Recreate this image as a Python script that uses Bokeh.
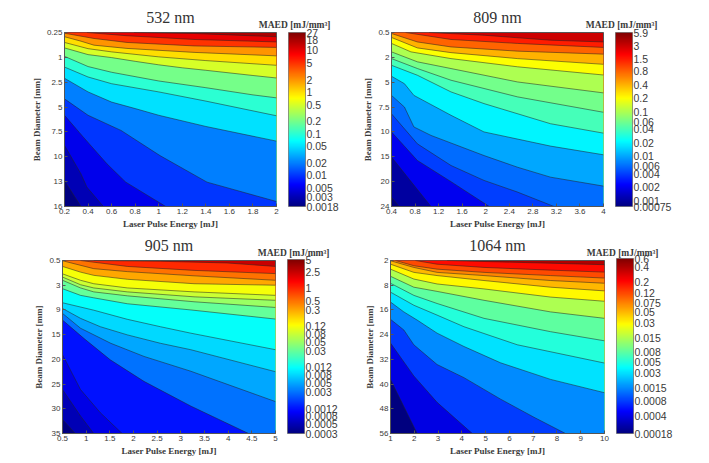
import numpy as np
from bokeh.embed import file_html
from bokeh.resources import INLINE
from bokeh.layouts import column, row
from bokeh.plotting import figure
from bokeh.models import ColorBar, LogColorMapper, FixedTicker, Range1d, AllLabels, Title

# ---------- 532 nm ----------
T_532 = "532 nm"
LEVELS_532 = [27, 18, 10, 5, 2, 1, 0.5, 0.2, 0.1, 0.05, 0.02, 0.01, 0.005, 0.003, 0.0018]
XTICKS_532 = [0.2, 0.4, 0.6, 0.8, 1, 1.2, 1.4, 1.6, 1.8, 2]
YLABELS_532 = ["0.25", "1", "2.5", "5", "7.5", "10", "13", "16"]
X_532 = [
    [0.79, 1.3, 2],
    [0.39, 0.73, 1.3, 2],
    [0.2, 0.45, 0.73, 1.3, 2],
    [0.2, 0.34, 0.45, 0.73, 1.3, 2],
    [0.2, 0.4, 0.6, 1, 1.4, 2],
    [0.2, 0.4, 0.6, 0.8, 1, 1.2, 1.4, 1.8, 2],
    [0.2, 0.4, 0.6, 1, 1.4, 1.8, 2],
    [0.2, 0.4, 0.6, 1, 1.4, 2],
    [0.2, 0.4, 0.6, 0.8, 1, 1.4, 2],
    [0.2, 0.4, 0.68, 1.01, 1.41, 2],
    [0.2, 0.36, 0.56, 0.72, 1.06],
    [0.2, 0.34, 0.39, 0.53],
    [0.2, 0.34],
]
Y_532 = [
    [0, 0.04, 0.17],
    [0, 0.13, 0.28, 0.38],
    [0.03, 0.24, 0.40, 0.54, 0.60],
    [0.17, 0.35, 0.51, 0.64, 0.80, 0.94],
    [0.40, 0.65, 0.78, 0.98, 1.13, 1.32],
    [0.62, 0.89, 1.01, 1.16, 1.30, 1.42, 1.52, 1.73, 1.83],
    [0.96, 1.37, 1.60, 1.95, 2.22, 2.51, 2.63],
    [1.39, 1.79, 2.06, 2.39, 2.76, 3.35],
    [1.84, 2.39, 2.80, 3.06, 3.33, 3.78, 4.37],
    [2.67, 3.33, 3.94, 4.95, 6.02, 6.80],
    [3.33, 4.21, 5.28, 6.02, 7],
    [4.54, 5.69, 6.22, 7],
    [5.96, 7],
]

# ---------- 809 nm ----------
T_809 = "809 nm"
LEVELS_809 = [5.9, 3, 1.5, 0.8, 0.4, 0.2, 0.1, 0.06, 0.04, 0.02, 0.01, 0.006, 0.004, 0.002, 0.001, 0.00075]
XTICKS_809 = [0.4, 0.8, 1.2, 1.6, 2, 2.4, 2.8, 3.2, 3.6, 4]
YLABELS_809 = ["0.5", "2", "5", "7.5", "10", "15", "20", "24"]
X_809 = [
    [1.04, 1.97, 3.1, 4],
    [0.64, 1.41, 2.54, 4],
    [0.4, 0.84, 1.41, 2.54, 4],
    [0.4, 0.84, 1.41, 2.54, 4],
    [0.4, 0.73, 1.41, 2.54, 4],
    [0.4, 0.84, 1.41, 2.54, 4],
    [0.4, 0.84, 1.41, 2.54, 4],
    [0.4, 0.84, 1.41, 1.97, 3.1, 4],
    [0.4, 0.62, 0.78, 1.41, 1.97, 3.1, 4],
    [0.4, 0.62, 0.78, 1.07, 1.97, 2.54, 3.1, 4],
    [0.4, 0.84, 1.41, 1.97, 2.54, 3.16],
    [0.4, 0.84, 1.41, 2.06],
    [0.4, 1.07],
    [0.4, 0.53],
]
Y_809 = [
    [0, 0.11, 0.31, 0.38],
    [0, 0.28, 0.44, 0.60],
    [0.04, 0.38, 0.58, 0.75, 0.87],
    [0.20, 0.62, 0.81, 1.05, 1.28],
    [0.44, 0.78, 1.05, 1.38, 1.71],
    [0.78, 1.18, 1.45, 1.99, 2.43],
    [1.05, 1.45, 1.92, 2.59, 3.21],
    [1.32, 1.72, 2.39, 2.86, 3.67, 4.05],
    [1.76, 2.06, 2.53, 3.33, 4.0, 4.57, 4.92],
    [2.53, 3.0, 3.8, 4.14, 4.95, 5.42, 5.82, 6.18],
    [3.27, 4.48, 5.35, 5.95, 6.42, 7],
    [4.0, 5.15, 6.0, 7],
    [5.01, 7],
    [6.63, 7],
]

# ---------- 905 nm ----------
T_905 = "905 nm"
LEVELS_905 = [5, 2.5, 1, 0.5, 0.3, 0.12, 0.08, 0.05, 0.03, 0.012, 0.008, 0.005, 0.003, 0.0012, 0.0008, 0.0005, 0.0003]
XTICKS_905 = [0.5, 1, 1.5, 2, 2.5, 3, 3.5, 4, 4.5, 5]
YLABELS_905 = ["0.5", "3", "9", "15", "20", "25", "30", "35"]
X_905 = [
    [1.16, 2.57, 3.98, 5],
    [0.88, 1.87, 3.28, 5],
    [0.5, 1.16, 1.87, 3.28, 5],
    [0.5, 0.88, 1.16, 1.87, 3.28, 5],
    [0.5, 0.88, 1.16, 1.87, 3.28, 5],
    [0.5, 0.88, 1.16, 1.87, 3.28, 5],
    [0.5, 0.88, 1.16, 1.87, 3.28, 5],
    [0.5, 0.88, 1.16, 1.87, 3.21, 5],
    [0.5, 1.16, 1.87, 2.57, 3.21, 5],
    [0.5, 0.88, 1.30, 1.87, 2.57, 3.21, 5],
    [0.5, 0.88, 1.52, 2.22, 3.21, 5],
    [0.5, 0.95, 1.51, 2.22, 3.21, 4.43],
    [0.5, 0.88, 1.30, 1.76],
    [0.5, 0.88, 1.16],
    [0.5, 0.77],
]
Y_905 = [
    [0, 0.03, 0.10, 0.24],
    [0, 0.24, 0.40, 0.53],
    [0.01, 0.33, 0.45, 0.62, 0.80],
    [0.24, 0.47, 0.60, 0.76, 0.94, 1.0],
    [0.54, 0.80, 0.94, 1.11, 1.27, 1.41],
    [0.67, 0.98, 1.11, 1.27, 1.47, 1.61],
    [0.80, 1.11, 1.27, 1.43, 1.67, 1.90],
    [1.14, 1.41, 1.51, 1.75, 2.0, 2.37],
    [1.71, 2.01, 2.38, 2.68, 2.94, 3.61],
    [1.94, 2.34, 2.68, 3.01, 3.35, 3.61, 4.5],
    [2.14, 2.74, 3.35, 3.88, 4.48, 5.71],
    [2.41, 3.15, 4.02, 4.89, 5.89, 7],
    [3.81, 5.22, 6.16, 7],
    [5.22, 6.29, 7],
    [6.43, 7],
]

# ---------- 1064 nm ----------
T_1064 = "1064 nm"
LEVELS_1064 = [0.6, 0.4, 0.2, 0.12, 0.075, 0.05, 0.03, 0.015, 0.008, 0.005, 0.003, 0.0015, 0.0008, 0.0004, 0.00018]
XTICKS_1064 = [1, 2, 3, 4, 5, 6, 7, 8, 9, 10]
YLABELS_1064 = ["2", "8", "16", "24", "32", "40", "48", "56"]
X_1064 = [
    [3.38, 4.93, 7.73, 10],
    [2.05, 2.96, 4.93, 7.73, 10],
    [1.21, 1.98, 2.96, 4.93, 7.73, 10],
    [1, 1.98, 2.96, 4.93, 7.73, 10],
    [1, 1.98, 2.96, 4.93, 7.73, 10],
    [1, 1.98, 2.96, 4.93, 7.73, 10],
    [1, 1.98, 2.96, 4.93, 7.73, 10],
    [1, 1.98, 2.96, 4.93, 7.73, 10],
    [1, 1.98, 2.96, 4.09, 6.33, 10],
    [1, 1.56, 2.12, 2.96, 4.09, 5.63, 7.73, 10],
    [1, 1.56, 1.98, 2.96, 4.09, 5.63, 7.03, 8.36],
    [1, 1.98, 2.96, 4.44],
    [1, 2.12],
]
Y_1064 = [
    [0, 0.04, 0.11, 0.17],
    [0, 0.15, 0.28, 0.39, 0.47],
    [0, 0.21, 0.35, 0.48, 0.61, 0.71],
    [0.01, 0.28, 0.48, 0.61, 0.81, 0.92],
    [0.15, 0.48, 0.61, 0.81, 1.08, 1.23],
    [0.35, 0.75, 0.95, 1.15, 1.48, 1.65],
    [0.64, 1.08, 1.25, 1.61, 2.08, 2.34],
    [0.92, 1.41, 1.74, 2.34, 2.88, 3.25],
    [1.28, 1.81, 2.21, 2.68, 3.41, 4.15],
    [1.68, 2.08, 2.41, 2.94, 3.48, 4.14, 4.81, 5.35],
    [2.38, 2.81, 3.41, 4.21, 4.74, 5.61, 6.34, 7],
    [3.34, 4.67, 5.74, 7],
    [4.81, 7],
]


def jet(t):
    t = np.clip(t, 0, 1)
    r = np.clip(np.minimum(4 * t - 1.5, -4 * t + 4.5), 0, 1)
    g = np.clip(np.minimum(4 * t - 0.5, -4 * t + 3.5), 0, 1)
    b = np.clip(np.minimum(4 * t + 0.5, -4 * t + 2.5), 0, 1)
    return "#%02x%02x%02x" % (int(r * 255), int(g * 255), int(b * 255))


PALETTE = [jet(i / 255) for i in range(256)]
SERIF = "Liberation Serif"
SANS = "Liberation Sans"
TXT = "#3a3a3a"
MAED = "MAED [mJ/mm\u00b3]"


def panel(title, levels, xticks, ylabels, xs, ys, left, top, fw, fh, w, h):
    lo, hi = levels[-1], levels[0]
    pos = lambda v: np.log(v / lo) / np.log(hi / lo)
    xmin, xmax = xticks[0], xticks[-1]
    ymax = len(ylabels) - 1
    p = figure(width=w, height=h, output_backend="svg", toolbar_location=None,
               x_range=Range1d(xmin, xmax), y_range=Range1d(ymax, 0),
               min_border_left=left, min_border_top=top,
               min_border_right=w - left - fw, min_border_bottom=h - top - fh,
               background_fill_color=jet(pos(levels[1])), border_fill_color="white",
               outline_line_color="#555555")
    p.grid.visible = False
    p.title.text = title
    p.title.align = "center"
    p.title.text_font = SERIF
    p.title.text_font_style = "normal"
    p.title.text_font_size = "16px"
    p.title.text_color = "#333333"
    p.title.standoff = -22

    for i, (cx, cy) in enumerate(zip(xs, ys)):
        p.patch(list(cx) + [xmax, xmin, xmin], list(cy) + [ymax, ymax, 0],
                fill_color=jet(pos(levels[i + 2])), line_color=None)
    for cx, cy in zip(xs, ys):
        p.line(cx, cy, line_color="#222222", line_width=0.8, line_alpha=0.65)

    for ax in (p.xaxis[0], p.yaxis[0]):
        ax.major_tick_in = 3
        ax.major_tick_out = 0
        ax.minor_tick_line_color = None
        ax.axis_line_color = "#555555"
        ax.major_tick_line_color = "#555555"
        ax.major_label_text_font = SANS
        ax.major_label_text_font_size = "8px"
        ax.major_label_text_color = TXT
        ax.major_label_standoff = 2
        ax.axis_label_text_font = SERIF
        ax.axis_label_text_font_style = "bold"
        ax.axis_label_text_font_size = "9px"
        ax.axis_label_text_color = TXT
        ax.axis_label_standoff = 2
    p.xaxis[0].ticker = FixedTicker(ticks=xticks)
    p.xaxis[0].major_label_overrides = {t: f"{t:g}" for t in xticks}
    p.xaxis[0].axis_label = "Laser Pulse Energy [mJ]"
    p.yaxis[0].ticker = FixedTicker(ticks=list(range(len(ylabels))))
    p.yaxis[0].major_label_overrides = {i: s for i, s in enumerate(ylabels)}
    p.yaxis[0].axis_label = "Beam Diameter [mm]"

    mapper = LogColorMapper(palette=PALETTE, low=lo, high=hi)
    cb = ColorBar(color_mapper=mapper, ticker=FixedTicker(ticks=levels),
                  major_label_overrides={v: f"{v:g}" if v >= 0.0001 else str(v) for v in levels},
                  major_label_policy=AllLabels(),
                  width=17, height=fh, padding=0, margin=0, location=(12, 0),
                  major_tick_line_color=None, bar_line_color="#555555", bar_line_width=0.6,
                  major_label_text_font=SANS, major_label_text_font_size="10.5px",
                  major_label_text_color=TXT, label_standoff=1,
                  minor_tick_line_color=None)
    p.add_layout(cb, "right")
    p.add_layout(Title(text=MAED, align="right", offset=-54, standoff=6, text_font=SERIF,
                       text_font_size="9.5px", text_font_style="bold", text_color=TXT), "above")
    return p


p1 = panel(T_532, LEVELS_532, XTICKS_532, YLABELS_532, X_532, Y_532, 64, 32, 212, 174, 353, 233)
p2 = panel(T_809, LEVELS_809, XTICKS_809, YLABELS_809, X_809, Y_809, 38, 32, 212, 174, 345, 233)
p3 = panel(T_905, LEVELS_905, XTICKS_905, YLABELS_905, X_905, Y_905, 62, 27, 213, 174, 353, 225)
p4 = panel(T_1064, LEVELS_1064, XTICKS_1064, YLABELS_1064, X_1064, Y_1064, 37, 27, 214, 175, 345, 225)

layout = column(row(p1, p2, spacing=0), row(p3, p4, spacing=0), spacing=0)
open("out.html", "w").write(file_html(layout, INLINE))
